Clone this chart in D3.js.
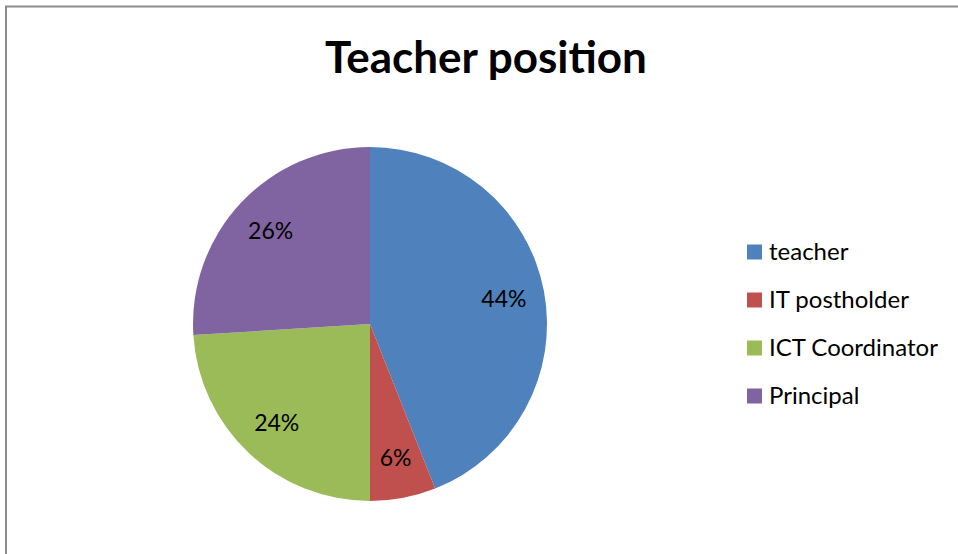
<!DOCTYPE html>
<html>
<head>
<meta charset="utf-8">
<script src="https://cdn.jsdelivr.net/npm/d3@7/dist/d3.min.js"></script>
<style>
  body { margin: 0; background: #fff; }
  svg { display: block; }
  text { font-family: Lato, "Open Sans", sans-serif; fill: #000; }
</style>
</head>
<body>
<svg id="chart" width="958" height="554"></svg>
<script>
'use strict'

const title = 'Teacher position'
const categories = ['teacher', 'IT postholder', 'ICT Coordinator', 'Principal']
const shares = [44, 6, 24, 26]
const colours = ['#4F81BD', '#C0504D', '#9BBB59', '#8064A2']

const width = 958
const height = 554
const cx = 370
const cy = 324
const radius = 177

const svg = d3.select('#chart')

// chart area frame (runs off the right and bottom of the picture)
svg.append('rect')
    .attr('x', 6)
    .attr('y', 6.5)
    .attr('width', width + 20)
    .attr('height', height + 20)
    .attr('fill', 'none')
    .attr('stroke', '#8c8c8c')
    .attr('stroke-width', 2)

svg.append('text')
    .attr('x', 486)
    .attr('y', 73)
    .attr('text-anchor', 'middle')
    .style('font-size', '44px')
    .style('font-weight', 'bold')
    .text(title)

const data = categories.map((c, i) => ({ name: c, value: shares[i], colour: colours[i] }))

const pie = d3.pie().sort(null).value(d => d.value)
const arcs = pie(data)

const arc = d3.arc().innerRadius(0).outerRadius(radius)
const labelArc = d3.arc().innerRadius(radius * 0.77).outerRadius(radius * 0.77)

const g = svg.append('g').attr('transform', `translate(${cx},${cy})`)

g.selectAll('path.slice')
    .data(arcs)
    .enter()
    .append('path')
    .attr('class', 'slice')
    .attr('d', arc)
    .attr('fill', d => d.data.colour)

g.selectAll('text.pct')
    .data(arcs)
    .enter()
    .append('text')
    .attr('class', 'pct')
    .attr('transform', d => `translate(${labelArc.centroid(d)})`)
    .attr('text-anchor', 'middle')
    .attr('dy', '0.35em')
    .style('font-size', '23px')
    .text(d => `${d.data.value}%`)

// legend
const legend = svg.append('g').attr('transform', 'translate(747,252)')
const rows = legend.selectAll('g.row')
    .data(data)
    .enter()
    .append('g')
    .attr('class', 'row')
    .attr('transform', (d, i) => `translate(0,${i * 48})`)

rows.append('rect')
    .attr('x', 0)
    .attr('y', -7.5)
    .attr('width', 15)
    .attr('height', 15)
    .attr('fill', d => d.colour)

rows.append('text')
    .attr('x', 22)
    .attr('dy', '0.35em')
    .style('font-size', '24px')
    .text(d => d.name)
</script>
</body>
</html>
